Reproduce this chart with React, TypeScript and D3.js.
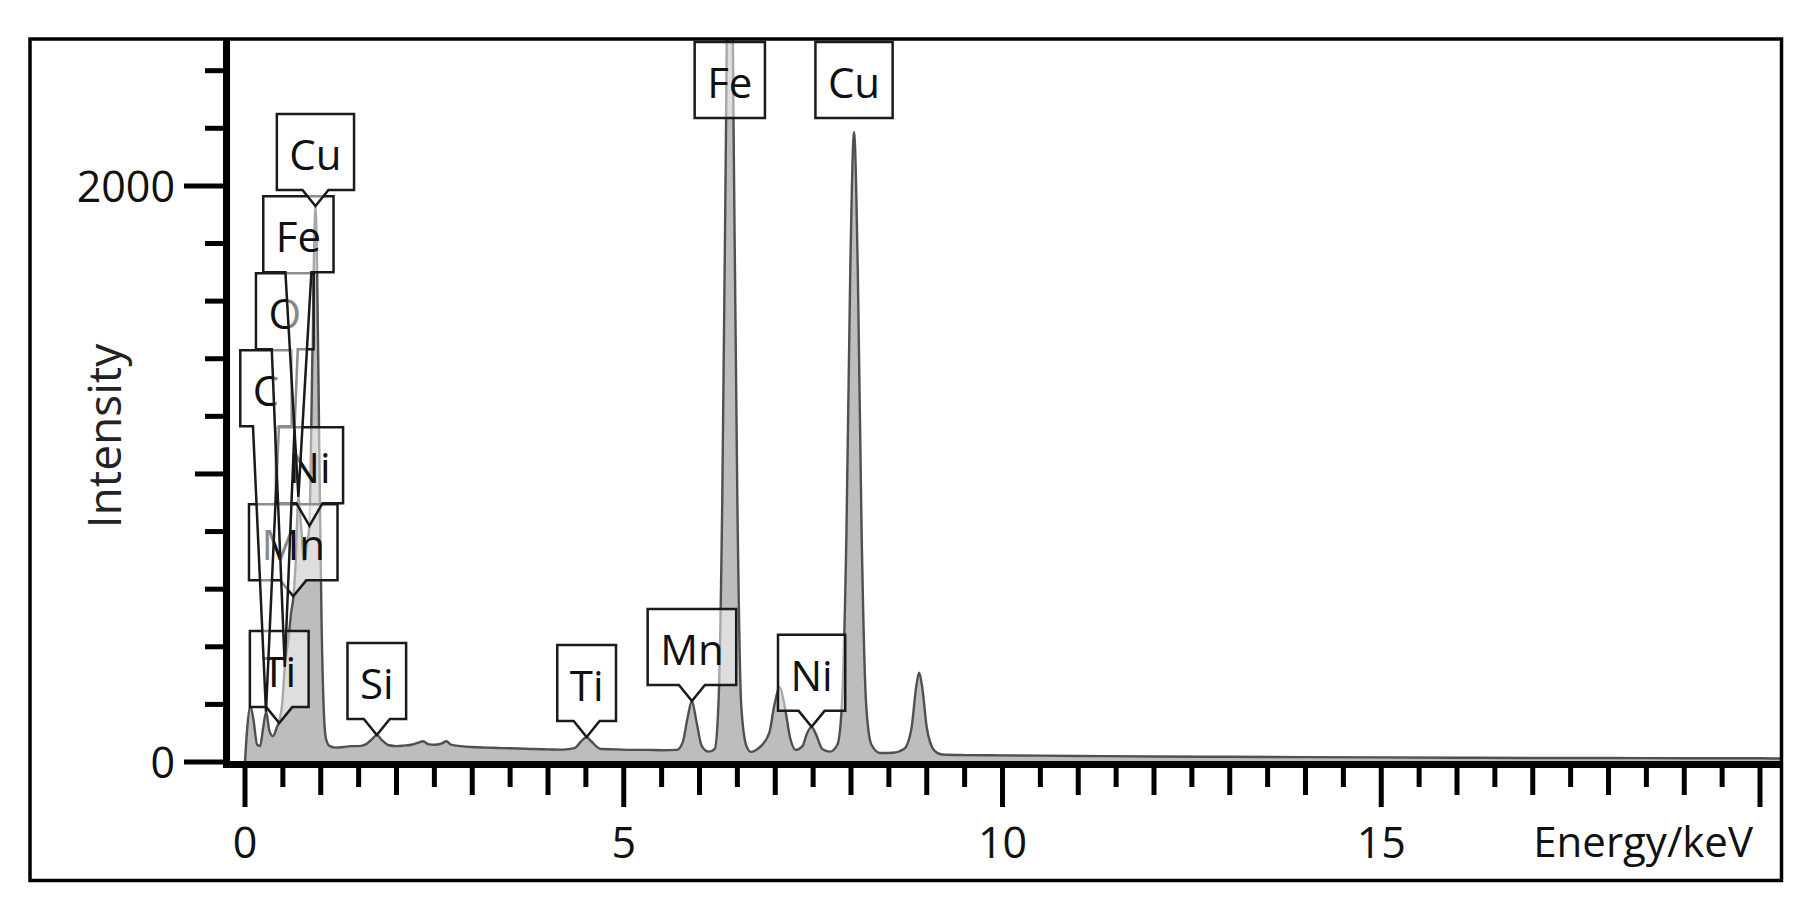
import React from "react";
import * as d3 from "d3";

// ---------- data ----------
const spectrumEnergy = [
  0.0, 0.03, 0.07, 0.11, 0.16, 0.2, 0.24, 0.28, 0.32, 0.37, 0.42, 0.45, 0.49, 0.525, 0.57, 0.61, 0.64, 0.67,
  0.705, 0.74, 0.78, 0.82, 0.85, 0.88, 0.91, 0.93, 0.95, 0.98, 1.01, 1.04, 1.07, 1.12, 1.2, 1.3, 1.4, 1.5,
  1.6, 1.68, 1.74, 1.8, 1.9, 2.0, 2.1, 2.2, 2.3, 2.35, 2.42, 2.5, 2.6, 2.66, 2.72, 2.85, 3.0, 3.2, 3.4, 3.6,
  3.8, 4.0, 4.2, 4.35, 4.45, 4.51, 4.57, 4.7, 4.9, 5.1, 5.3, 5.5, 5.7, 5.78, 5.84, 5.9, 5.96, 6.03, 6.12,
  6.2, 6.25, 6.3, 6.35, 6.4, 6.45, 6.5, 6.55, 6.62, 6.68, 6.78, 6.92, 6.99, 7.06, 7.12, 7.2, 7.27, 7.36,
  7.42, 7.48, 7.54, 7.62, 7.72, 7.82, 7.88, 7.94, 7.99, 8.04, 8.09, 8.14, 8.2, 8.27, 8.39, 8.55, 8.7, 8.8,
  8.86, 8.9, 8.94, 9.0, 9.1, 9.2, 9.5, 10, 11, 12, 13, 14, 15, 16, 17, 18, 19, 20, 20.3,
];
const spectrumCounts = [
  0, 120, 195, 150, 60, 55, 120, 175, 110, 90, 120, 140, 200, 330, 420, 520, 575, 700,
  920, 820, 700, 760, 820, 1250, 1750, 1930, 1750, 1100, 500, 180, 80, 55, 50, 52, 55, 55,
  62, 80, 94, 78, 58, 55, 57, 60, 68, 72, 62, 60, 65, 72, 60, 55, 52, 50, 48, 47,
  45, 44, 43, 48, 75, 87, 72, 45, 44, 42, 42, 41, 42, 70, 150, 212, 140, 55, 36,
  45, 200, 900, 2200, 3600, 2200, 900, 200, 55, 35, 48, 100, 200, 260, 200, 80, 42, 55,
  100, 122, 95, 45, 36, 60, 200, 800, 1700, 2187, 1700, 800, 200, 60, 31, 32, 45, 120,
  260, 310, 260, 120, 40, 26, 24, 23, 21, 19, 18, 17, 16, 15, 14, 14, 13, 13, 12,
];

// K-line labels (placed independently)
const kLabelNames = ["Fe", "Cu", "Mn", "Ti", "Ni", "Si"];
const kLabelEnergy = [6.4, 8.04, 5.9, 4.51, 7.48, 1.74];
const kLabelCounts = [3600, 2187, 212, 87, 122, 94];

// low-energy labels (stacked in this order)
const lLabelNames = ["Ti", "Mn", "Ni", "C", "O", "Fe", "Cu"];
const lLabelEnergy = [0.452, 0.637, 0.851, 0.277, 0.525, 0.705, 0.93];
const lLabelCounts = [135, 575, 820, 175, 330, 920, 1930];

const xTickValues = d3.range(0, 20.001, 0.5);
const xTickLabels = [0, 5, 10, 15];
const yTickValues = d3.range(0, 2401, 200);
const yTickLabels = [0, 2000];

const FONT = "'Open Sans', 'Noto Sans', sans-serif";

let measureCtx: CanvasRenderingContext2D | null = null;
function textWidth(t: string, size: number) {
  if (!measureCtx) {
    const c = document.createElement("canvas");
    measureCtx = c.getContext("2d");
  }
  if (!measureCtx) return t.length * size * 0.6;
  measureCtx.font = `${size}px ${FONT}`;
  return measureCtx.measureText(t).width;
}

type Placed = { name: string; cx: number; w: number; top: number; bottom: number; tipX: number; tipY: number; pointer: boolean };

export default function App() {
  const W = 1805;
  const H = 920;
  const plotTop = 39;
  const frameRight = 1781.5;
  const x = d3.scaleLinear().domain([0, 20]).range([245, 1760]);
  const y = d3.scaleLinear().domain([0, 2510]).range([762, plotTop]);

  const pts = spectrumEnergy.map((e, i) => [e, spectrumCounts[i]] as [number, number]);
  const area = d3
    .area<[number, number]>()
    .x((d) => x(d[0]))
    .y0(y(0))
    .y1((d) => y(d[1]))
    .curve(d3.curveMonotoneX);
  const line = d3
    .line<[number, number]>()
    .x((d) => x(d[0]))
    .y((d) => y(d[1]))
    .curve(d3.curveMonotoneX);

  const BOX_H = 76;
  const PTR = 16;
  const GAP = 1;
  const TOP_LIMIT = plotTop + 3;
  const LBL = 42;

  function place(names: string[], energies: number[], counts: number[]): Placed[] {
    const placed: Placed[] = [];
    names.forEach((name, i) => {
      const w = textWidth(name, LBL) + 25;
      const cx = x(energies[i]);
      const tipY = y(counts[i]);
      let bottom = tipY - PTR;
      let top = bottom - BOX_H;
      let pointer = true;
      if (top < TOP_LIMIT) {
        top = TOP_LIMIT;
        bottom = top + BOX_H;
        pointer = false;
      } else {
        let moved = true;
        let guard = 0;
        while (moved && guard < 50) {
          moved = false;
          guard++;
          for (const p of placed) {
            const hOverlap = cx - w / 2 < p.cx + p.w / 2 && cx + w / 2 > p.cx - p.w / 2;
            const vOverlap = top < p.bottom + GAP && bottom > p.top - GAP;
            if (hOverlap && vOverlap) {
              bottom = p.top - GAP;
              top = bottom - BOX_H;
              moved = true;
            }
          }
        }
      }
      placed.push({ name, cx, w, top, bottom, tipX: cx, tipY, pointer });
    });
    return placed;
  }

  const kPlaced = place(kLabelNames, kLabelEnergy, kLabelCounts);
  const lPlaced = place(lLabelNames, lLabelEnergy, lLabelCounts);

  function callout(p: Placed) {
    const l = p.cx - p.w / 2;
    const r = p.cx + p.w / 2;
    if (!p.pointer) return `M${l},${p.top}H${r}V${p.bottom}H${l}Z`;
    return `M${l},${p.top}H${r}V${p.bottom}H${p.cx + 13}L${p.tipX},${p.tipY}L${p.cx - 13},${p.bottom}H${l}Z`;
  }

  const renderLabel = (p: Placed, i: number) => (
    <g key={p.name + i}>
      <path d={callout(p)} fill="#fff" fillOpacity={0.5} stroke="#1a1a1a" strokeWidth={2.5} strokeLinejoin="miter" />
      <text x={p.cx} y={p.top + 56} textAnchor="middle" fontSize={LBL} fontFamily={FONT} fill="#111">
        {p.name}
      </text>
    </g>
  );

  const yAxisX = 226.5;
  const xAxisY = 764.5;

  return (
    <div style={{ position: "absolute", left: 0, top: 0, width: W, height: H, background: "#fff" }}>
      <svg width={W} height={H} viewBox={`0 0 ${W} ${H}`} style={{ display: "block" }}>
        <defs>
          <clipPath id="plotClip">
            <rect x={yAxisX} y={plotTop + 1} width={frameRight - yAxisX} height={762 - plotTop} />
          </clipPath>
        </defs>
        <rect x={0} y={0} width={W} height={H} fill="#fff" />

        {/* spectrum */}
        <g clipPath="url(#plotClip)">
          <path d={area(pts) || ""} fill="#bdbdbd" />
          <path d={line(pts) || ""} fill="none" stroke="#505050" strokeWidth={2.4} strokeLinejoin="round" />
        </g>

        {/* frame */}
        <rect x={30} y={plotTop} width={frameRight - 30} height={880.5 - plotTop} fill="none" stroke="#000" strokeWidth={3.5} />

        {/* y axis */}
        <line x1={yAxisX} x2={yAxisX} y1={plotTop} y2={768} stroke="#000" strokeWidth={7} />
        {yTickValues.map((v) => {
          const labelled = yTickLabels.includes(v);
          const x1 = labelled ? 184 : v % 1000 === 0 ? 195 : 205;
          return <line key={"yt" + v} x1={x1} x2={yAxisX} y1={y(v)} y2={y(v)} stroke="#000" strokeWidth={5} />;
        })}
        {yTickLabels.map((v) => (
          <text key={"yl" + v} x={175} y={y(v) + 16} textAnchor="end" fontSize={43} fontFamily={FONT} fill="#111">
            {v}
          </text>
        ))}
        <text
          transform={`translate(121,436) rotate(-90)`}
          textAnchor="middle"
          fontSize={46}
          fontFamily={FONT}
          fill="#222"
        >
          Intensity
        </text>

        {/* x axis */}
        <line x1={223} x2={frameRight} y1={xAxisY} y2={xAxisY} stroke="#000" strokeWidth={7} />
        {xTickValues.map((v) => {
          const isFive = Math.abs(v % 5) < 1e-9;
          const isInt = Math.abs(v - Math.round(v)) < 1e-9;
          const y2 = isFive ? 807 : isInt ? 795 : 787;
          return <line key={"xt" + v} x1={x(v)} x2={x(v)} y1={764} y2={y2} stroke="#000" strokeWidth={5} />;
        })}
        {xTickLabels.map((v) => (
          <text key={"xl" + v} x={x(v)} y={858} textAnchor="middle" fontSize={43} fontFamily={FONT} fill="#111">
            {v}
          </text>
        ))}
        <text x={1753} y={857} textAnchor="end" fontSize={42} fontFamily={FONT} fill="#111">
          Energy/keV
        </text>

        {/* peak labels */}
        {lPlaced.map(renderLabel)}
        {kPlaced.map(renderLabel)}
      </svg>
    </div>
  );
}
